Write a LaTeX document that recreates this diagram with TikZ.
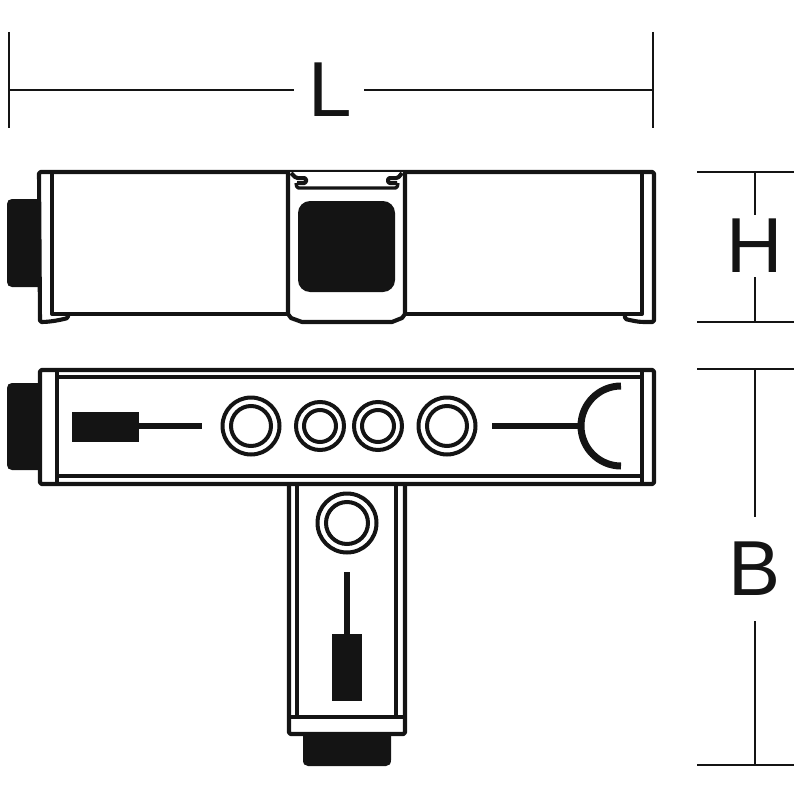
\documentclass[tikz,border=0pt]{standalone}
\usepackage{fontspec}
\setmainfont{Liberation Sans}
\definecolor{ink}{HTML}{141414}
\tikzset{
  part/.style={draw=ink,line width=4.1pt,line join=round},
  hook/.style={draw=ink,line width=4pt,line join=round,rounded corners=1.5pt},
  thin dim/.style={draw=ink,line width=1.8pt},
  bar/.style={draw=ink,line width=6pt},
  ring/.style={draw=ink,line width=4pt},
  dimlabel/.style={font=\fontsize{78}{78}\selectfont,text=ink,inner sep=0pt,anchor=center}
}
\begin{document}
\begin{tikzpicture}[x=1pt,y=-1pt]
\useasboundingbox (0,0) rectangle (800,800);
% dimension L
\draw[thin dim] (9,32) -- (9,128) (653,32) -- (653,128);
\node[dimlabel] (L) at (330,90) {L};
\coordinate (La) at (9,90); \coordinate (Lb) at (653,90);
\draw[thin dim] (La) -- (294,90) (364,90) -- (Lb);
% dimension H
\draw[thin dim] (697,172) -- (794,172) (697,322) -- (794,322);
\node[dimlabel] (H) at (755,246) {H};
\draw[thin dim] (755,172) -- (755,215) (755,277) -- (755,322);
% dimension B
\draw[thin dim] (697,369) -- (794,369) (697,765) -- (794,765);
\node[dimlabel] (B) at (755,569) {B};
\draw[thin dim] (755,369) -- (755,517) (755,621) -- (755,765);
% front view
\fill[ink] (40,199) -- (12,199) .. controls (9,199) and (7,201) .. (7,204) -- (7,282) .. controls (7,285) and (9,287) .. (12,287) -- (40,287) -- cycle;
\draw[part,rounded corners=1.5pt] (68,315) -- (68,318) .. controls (60,320) and (50,322) .. (40,322) -- (39,172) -- (654,172) -- (654,322) -- (645,322) .. controls (637,322) and (630,320) .. (625,319) -- (625,315);
\draw[part] (52,172) -- (52,314) -- (288,314) (642,172) -- (642,314) -- (405,314);
\draw[part,fill=white] (288,172) -- (288,314) -- (291,318) -- (302,322) -- (392,322) -- (402,318) -- (405,314) -- (405,172);
\draw[hook,line width=3.4pt] (296,183) -- (297,188) -- (397,188) -- (398,183);
\draw[hook] (291,173) -- (296,178) -- (306,178) -- (306,183) -- (297,183);
\draw[hook] (402,173) -- (398,178) -- (388,178) -- (388,183) -- (397,183);
\fill[ink,rounded corners=12pt] (298,201) rectangle (395,292);
% plan view, bar
\fill[ink] (40,383) -- (12,383) .. controls (9,383) and (7,385) .. (7,388) -- (7,465) .. controls (7,468) and (9,470) .. (12,470) -- (40,470) -- cycle;
\draw[part,rounded corners=1.5pt] (40,370) rectangle (654,484);
\draw[part] (57,370) -- (57,484) (642,370) -- (642,484);
\draw[part] (57,377) -- (642,377) (57,476) -- (642,476);
\fill[ink] (72,412) rectangle (139,442);
\draw[bar] (139,426) -- (202,426);
\draw[bar] (492,426) -- (580,426);
\draw[draw=ink,line width=7pt] (621,466) arc[start angle=90,end angle=270,radius=40];
\foreach \cx/\ro/\ri in {251/28.5/20,447/28.5/20,320/24/16,378/24/16}{
  \draw[ring] (\cx,426) circle[radius=\ro];
  \draw[ring] (\cx,426) circle[radius=\ri];
}
% plan view, stem
\fill[ink] (303,734) -- (303,760) .. controls (303,764) and (305,766) .. (308,766) -- (386,766) .. controls (389,766) and (391,764) .. (391,760) -- (391,734) -- cycle;
\draw[part,rounded corners=1.5pt] (289,484) -- (289,734) -- (405,734) -- (405,484);
\draw[part] (297,484) -- (297,717) (396,484) -- (396,717) (289,717) -- (405,717);
\draw[ring] (347,523) circle[radius=29.5];
\draw[ring] (347,523) circle[radius=21];
\draw[bar] (347,572) -- (347,634);
\fill[ink] (332,634) rectangle (362,701);
\end{tikzpicture}
\end{document}
